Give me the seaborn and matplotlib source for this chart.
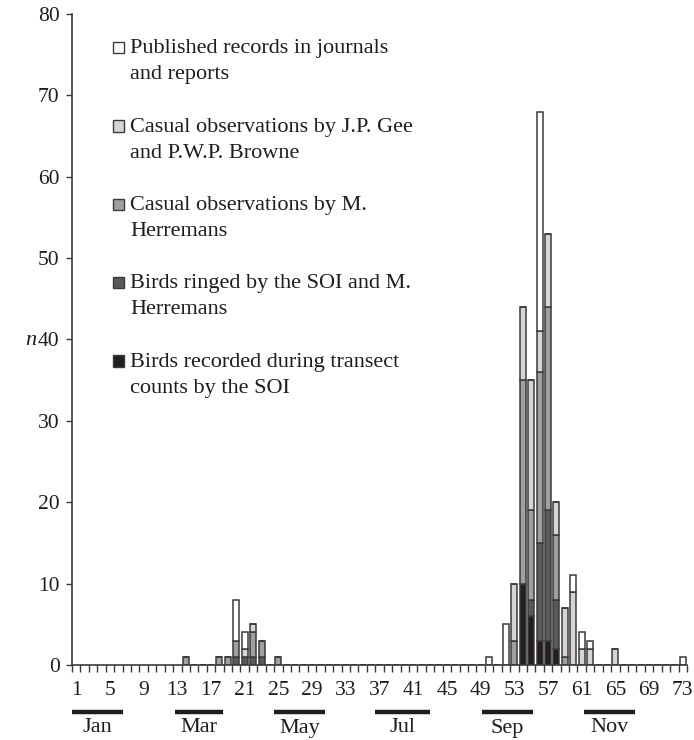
import numpy as np
import pandas as pd
import matplotlib
matplotlib.use("Agg")
import matplotlib.pyplot as plt
import matplotlib.transforms as mtransforms
from matplotlib.patches import Rectangle
import seaborn as sns

# ---------------- data ----------------
series_names = [
    "Published records in journals\nand reports",
    "Casual observations by J.P. Gee\nand P.W.P. Browne",
    "Casual observations by M.\nHerremans",
    "Birds ringed by the SOI and M.\nHerremans",
    "Birds recorded during transect\ncounts by the SOI",
]

published_pentads = [20, 21, 50, 52, 56, 60, 61, 62, 73]
published_counts = [5, 2, 1, 5, 27, 2, 2, 1, 1]

gee_pentads = [21, 22, 53, 54, 55, 56, 57, 58, 59, 60, 61, 62, 65]
gee_counts = [1, 1, 7, 9, 16, 5, 9, 4, 6, 9, 2, 2, 2]

herremans_pentads = [14, 18, 19, 20, 22, 23, 25, 53, 54, 55, 56, 57, 58, 59]
herremans_counts = [1, 1, 1, 2, 3, 2, 1, 3, 25, 11, 21, 25, 8, 1]

ringed_pentads = [20, 21, 22, 23, 55, 56, 57, 58]
ringed_counts = [1, 1, 1, 1, 2, 12, 16, 6]

transect_pentads = [54, 55, 56, 57, 58]
transect_counts = [10, 6, 3, 3, 2]

x_tick_labels = list(range(1, 74, 4))
month_labels = ["Jan", "Mar", "May", "Jul", "Sep", "Nov"]

# ---------------- styling / layout ----------------
colors = ["#ffffff", "#d8d4d1", "#a19f9f", "#5a5858", "#231f20"]
edge_col = "#3a3a3a"
text_col = "#1e1e1e"
month_starts = [0.5, 12.7, 24.5, 36.5, 49.2, 61.3]
month_ends = [6.6, 18.4, 30.5, 43.0, 55.2, 67.3]

sns.set_theme(style="ticks")
plt.rcParams["font.family"] = ["Liberation Serif", "DejaVu Serif"]
FS_TICK = 15.5
FS_TEXT = 16

pent_lists = [published_pentads, gee_pentads, herremans_pentads, ringed_pentads, transect_pentads]
count_lists = [published_counts, gee_counts, herremans_counts, ringed_counts, transect_counts]
frames = []
for name, p, c in zip(series_names, pent_lists, count_lists):
    frames.append(pd.DataFrame({"pentad": p, "n": c, "source": name}))
df = pd.concat(frames, ignore_index=True)

fig = plt.figure(figsize=(6.94, 7.40), dpi=100)
W, H = 694, 740
ax_l, ax_r, ax_t, ax_b = 72, 687, 14, 665
ax = fig.add_axes([ax_l / W, 1 - ax_b / H, (ax_r - ax_l) / W, (ax_b - ax_t) / H])

sns.histplot(
    data=df, x="pentad", weights="n", hue="source", hue_order=series_names,
    multiple="stack", discrete=True, shrink=0.72,
    palette=dict(zip(series_names, colors)), alpha=1,
    edgecolor=edge_col, linewidth=1.1, legend=False, ax=ax,
)

ax.set_xlim(0.5, 73.5)
ax.set_ylim(0, 80)
ax.set_yticks(np.arange(0, 81, 10))
ax.set_xticks(x_tick_labels)
ax.set_xticklabels([str(v) for v in x_tick_labels], fontsize=FS_TICK)
ax.set_xticks(np.arange(0.5, 74, 1), minor=True)
ax.tick_params(axis="x", which="major", length=0, pad=11.5, colors=text_col)
ax.tick_params(axis="x", which="minor", length=5, width=1.0, color=edge_col, direction="out")
ax.tick_params(axis="y", which="major", length=4, width=1.0, pad=5,
               labelsize=FS_TICK, labelcolor=text_col, color=edge_col)

for s in ["top", "right"]:
    ax.spines[s].set_visible(False)
for s in ["left", "bottom"]:
    ax.spines[s].set_color(edge_col)
    ax.spines[s].set_linewidth(1.2)

ax.set_xlabel("")
ax.set_ylabel("n", rotation=0, fontsize=FS_TEXT, style="italic", color=text_col)
ax.yaxis.set_label_coords((31 - ax_l) / (ax_r - ax_l), (ax_b - 350) / (ax_b - ax_t))

# month bars and labels
trans = mtransforms.blended_transform_factory(ax.transData, ax.transAxes)
y_line = (ax_b - 712) / (ax_b - ax_t)
y_lab = (ax_b - 728) / (ax_b - ax_t)
for m, s0, s1 in zip(month_labels, month_starts, month_ends):
    ax.plot([s0, s1], [y_line, y_line], transform=trans, color="#1e1e1e",
            linewidth=3.2, solid_capstyle="butt", clip_on=False)
    ax.text((s0 + s1) / 2, y_lab, m, transform=trans, ha="center", va="center",
            fontsize=FS_TEXT, color=text_col, clip_on=False)

# legend (drawn in figure pixel space)
first_baselines = [53.3, 131.7, 210, 288.3, 366.7]
line_gap = 26
for name, col, yb in zip(series_names, colors, first_baselines):
    sq = Rectangle((112.5 / W, 1 - yb / H), 11.5 / W, 11.5 / H, transform=fig.transFigure,
                   facecolor=col, edgecolor=edge_col, linewidth=1.0)
    fig.patches.append(sq)
    lines = name.split("\n")
    for i, ln in enumerate(lines):
        fig.text(130 / W, 1 - (yb + i * line_gap) / H, ln, ha="left", va="baseline",
                 fontsize=FS_TEXT, color=text_col)

fig.savefig("out.png", dpi=100)
